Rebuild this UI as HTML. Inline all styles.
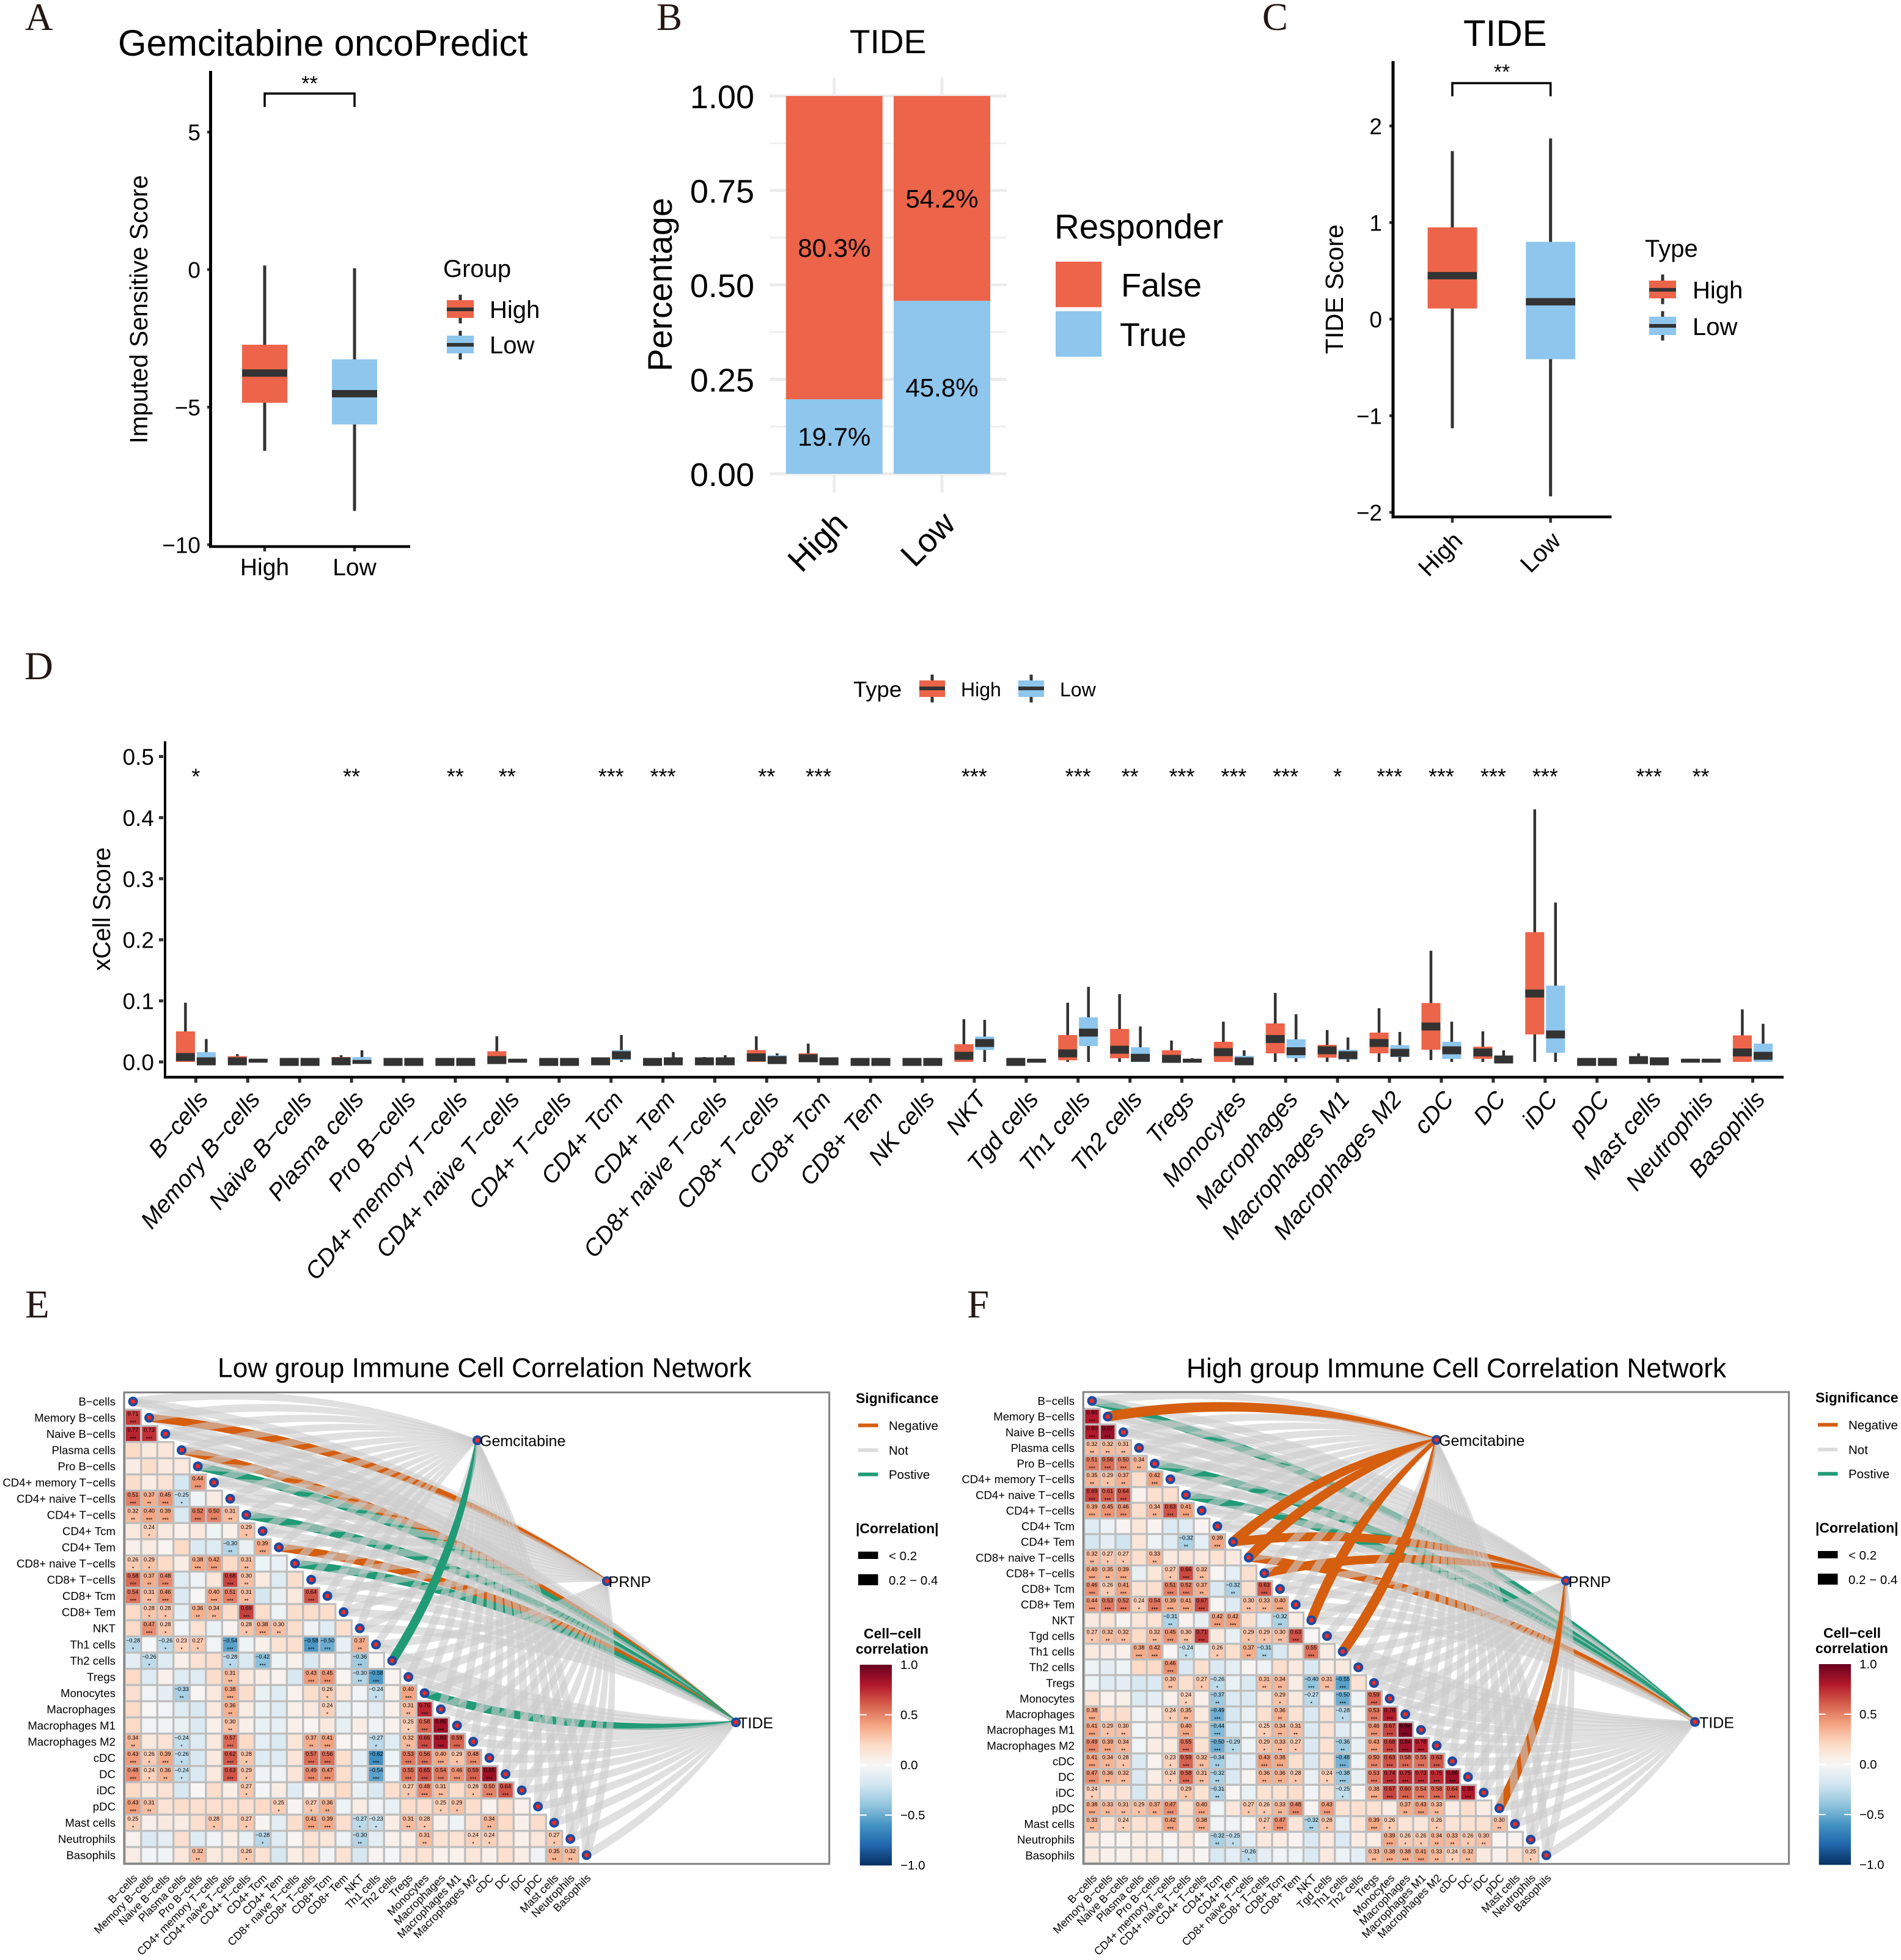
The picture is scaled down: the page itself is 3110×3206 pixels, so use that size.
<!DOCTYPE html>
<html lang="en">
<head>
<meta charset="utf-8">
<title>Immune, TIDE and Gemcitabine figure</title>
<style>
html,body{margin:0;padding:0;background:#fff}
svg{display:block;font-family:"Liberation Sans",sans-serif}
.letter{font-family:"Liberation Serif",serif;fill:#231815}
</style>
</head>
<body>
<svg id="figure" xmlns="http://www.w3.org/2000/svg" width="3110" height="3206" viewBox="0 0 3110 3206">
<defs>
<linearGradient id="corr-gradient" x1="0" y1="0" x2="0" y2="1">
<stop offset="0" stop-color="#67001f"/><stop offset=".1" stop-color="#b2182b"/><stop offset=".2" stop-color="#d6604d"/><stop offset=".3" stop-color="#f4a582"/><stop offset=".4" stop-color="#fddbc7"/><stop offset=".5" stop-color="#f7f7f7"/><stop offset=".6" stop-color="#d1e5f0"/><stop offset=".7" stop-color="#92c5de"/><stop offset=".8" stop-color="#4393c3"/><stop offset=".9" stop-color="#2166ac"/><stop offset="1" stop-color="#053061"/>
</linearGradient>
</defs>
<rect width="3110" height="3206" fill="#fff"/>

<text class="letter" x="41" y="49" font-size="63">A</text>
<text class="letter" x="1074" y="49" font-size="63">B</text>
<text class="letter" x="2065" y="49" font-size="63">C</text>
<text class="letter" x="40" y="1111" font-size="65">D</text>
<text class="letter" x="41" y="2155" font-size="65">E</text>
<text class="letter" x="1582" y="2155" font-size="65">F</text>

<!-- Panel A static text -->
<text x="193" y="91" font-size="60">Gemcitabine oncoPredict</text>
<text transform="rotate(-90 241 506)" x="241" y="506" font-size="40.5" text-anchor="middle">Imputed Sensitive Score</text>
<text x="725" y="453" font-size="40">Group</text>
<g>
<rect x="750.5" y="482" width="5" height="47" fill="#333"/><rect x="731" y="491" width="44" height="29" fill="#EC6449"/><rect x="731" y="503" width="44" height="6" fill="#333"/>
<text x="801" y="520" font-size="40">High</text></g>
<g>
<rect x="750.5" y="541" width="5" height="47" fill="#333"/><rect x="731" y="549" width="44" height="29" fill="#8EC6ED"/><rect x="731" y="561" width="44" height="6" fill="#333"/>
<text x="801" y="578" font-size="40">Low</text></g>

<!-- Panel B static text -->
<text x="1390" y="87" font-size="55">TIDE</text>
<text transform="rotate(-90 1099 465.5)" x="1099" y="465.5" font-size="55.5" text-anchor="middle">Percentage</text>
<text x="1725" y="390" font-size="56.5">Responder</text>
<g><rect x="1727" y="428" width="75" height="74.5" fill="#EC6449"/><text x="1834" y="485" font-size="54">False</text></g>
<g><rect x="1727" y="509" width="75" height="74.5" fill="#8EC6ED"/><text x="1832" y="566" font-size="54">True</text></g>

<!-- Panel C static text -->
<text x="2394" y="75" font-size="60">TIDE</text>
<text transform="rotate(-90 2197 473)" x="2197" y="473" font-size="41" text-anchor="middle">TIDE Score</text>
<text x="2691" y="420" font-size="40">Type</text>
<g>
<rect x="2717.5" y="449" width="5" height="48.5" fill="#333"/><rect x="2698" y="459" width="44" height="29" fill="#EC6449"/><rect x="2698" y="471" width="44" height="6" fill="#333"/>
<text x="2769" y="488" font-size="40">High</text></g>
<g>
<rect x="2717.5" y="509" width="5" height="48" fill="#333"/><rect x="2698" y="518" width="44" height="30" fill="#8EC6ED"/><rect x="2698" y="530" width="44" height="6" fill="#333"/>
<text x="2769" y="548" font-size="40">Low</text></g>

<!-- Panel D static text -->
<text transform="rotate(-90 180 1487)" x="180" y="1487" font-size="39.5" text-anchor="middle">xCell Score</text>
<text x="1396" y="1140" font-size="36.5">Type</text>
<g>
<rect x="1522.5" y="1103.5" width="5" height="45.5" fill="#333"/><rect x="1504" y="1113" width="42" height="27" fill="#EC6449"/><rect x="1504" y="1123" width="42" height="6" fill="#333"/>
<text x="1572" y="1139" font-size="32">High</text></g>
<g>
<rect x="1684.5" y="1103.5" width="5" height="45.5" fill="#333"/><rect x="1666" y="1113" width="42" height="27" fill="#8EC6ED"/><rect x="1666" y="1123" width="42" height="6" fill="#333"/>
<text x="1734" y="1139" font-size="32">Low</text></g>

<!-- Panels E / F static text -->
<text x="356" y="2252.5" font-size="44.4">Low group Immune Cell Correlation Network</text>
<text x="1941" y="2253" font-size="44.4">High group Immune Cell Correlation Network</text>

<g id="legend-e">
<text x="1400" y="2295" font-size="23" font-weight="700">Significance</text>
<rect x="1404" y="2328.5" width="32.5" height="6" fill="#d55e0f"/>
<text x="1454" y="2339" font-size="20.5">Negative</text>
<rect x="1404" y="2369" width="32.5" height="6" fill="#dcdcdc"/>
<text x="1454" y="2379.5" font-size="20.5">Not</text>
<rect x="1404" y="2408.7" width="32.5" height="6" fill="#219b76"/>
<text x="1454" y="2419" font-size="20.5">Postive</text>
<text x="1400" y="2508" font-size="23" font-weight="700">|Correlation|</text>
<rect x="1404" y="2538" width="32.5" height="12" fill="#000"/>
<text x="1454" y="2552" font-size="20.5">&lt; 0.2</text>
<rect x="1404" y="2575" width="32.5" height="18" fill="#000"/>
<text x="1454" y="2592" font-size="20.5">0.2 − 0.4</text>
<text x="1460" y="2680" font-size="23" font-weight="700" text-anchor="middle">Cell−cell</text>
<text x="1400" y="2705" font-size="23" font-weight="700">correlation</text>
<rect x="1406.7" y="2723" width="52.3" height="328.4" fill="url(#corr-gradient)"/>
<g stroke="#fff" stroke-width="2">
<path d="M1406.7 2804.9h11M1448 2804.9h11M1406.7 2887h11M1448 2887h11M1406.7 2969h11M1448 2969h11"/></g>
<g font-size="20.5">
<text x="1473" y="2730">1.0</text><text x="1473" y="2812">0.5</text><text x="1473" y="2894">0.0</text><text x="1473" y="2976">−0.5</text><text x="1473" y="3058">−1.0</text></g>
</g>
<g id="legend-f" transform="translate(1570 -1)">
<text x="1400" y="2295" font-size="23" font-weight="700">Significance</text>
<rect x="1404" y="2328.5" width="32.5" height="6" fill="#d55e0f"/>
<text x="1454" y="2339" font-size="20.5">Negative</text>
<rect x="1404" y="2369" width="32.5" height="6" fill="#dcdcdc"/>
<text x="1454" y="2379.5" font-size="20.5">Not</text>
<rect x="1404" y="2408.7" width="32.5" height="6" fill="#219b76"/>
<text x="1454" y="2419" font-size="20.5">Postive</text>
<text x="1400" y="2508" font-size="23" font-weight="700">|Correlation|</text>
<rect x="1404" y="2538" width="32.5" height="12" fill="#000"/>
<text x="1454" y="2552" font-size="20.5">&lt; 0.2</text>
<rect x="1404" y="2575" width="32.5" height="18" fill="#000"/>
<text x="1454" y="2592" font-size="20.5">0.2 − 0.4</text>
<text x="1460" y="2680" font-size="23" font-weight="700" text-anchor="middle">Cell−cell</text>
<text x="1400" y="2705" font-size="23" font-weight="700">correlation</text>
<rect x="1405.7" y="2723" width="52.3" height="328.4" fill="url(#corr-gradient)"/>
<g stroke="#fff" stroke-width="2">
<path d="M1405.7 2804.9h11M1447 2804.9h11M1405.7 2887h11M1447 2887h11M1405.7 2969h11M1447 2969h11"/></g>
<g font-size="20.5">
<text x="1472" y="2730">1.0</text><text x="1472" y="2812">0.5</text><text x="1472" y="2894">0.0</text><text x="1472" y="2976">−0.5</text><text x="1472" y="3058">−1.0</text></g>
</g>
</svg>

<script>
/* ---------- Panel A data: [whisker low, q1, median, q3, whisker high] ---------- */
const gemGroups = ['High', 'Low'];
const gemHighBox = [-6.59, -4.84, -3.76, -2.73, 0.15];
const gemLowBox = [-8.77, -5.63, -4.51, -3.26, 0.05];
const gemTicks = [5, 0, -5, -10];

/* ---------- Panel B data ---------- */
const respGroups = ['High', 'Low'];
const respFalse = [0.803, 0.542];
const respTrue = [0.197, 0.458];
const respTicks = [0, 0.25, 0.5, 0.75, 1];
const respMinorTicks = [0.125, 0.375, 0.625, 0.875];

/* ---------- Panel C data ---------- */
const tideGroups = ['High', 'Low'];
const tideHighBox = [-1.13, 0.11, 0.45, 0.95, 1.74];
const tideLowBox = [-1.835, -0.415, 0.18, 0.80, 1.87];
const tideTicks = [2, 1, 0, -1, -2];

/* ---------- Panel D data ---------- */
const xcellCats = ['B−cells','Memory B−cells','Naive B−cells','Plasma cells','Pro B−cells','CD4+ memory T−cells','CD4+ naive T−cells','CD4+ T−cells','CD4+ Tcm','CD4+ Tem','CD8+ naive T−cells','CD8+ T−cells','CD8+ Tcm','CD8+ Tem','NK cells','NKT','Tgd cells','Th1 cells','Th2 cells','Tregs','Monocytes','Macrophages','Macrophages M1','Macrophages M2','cDC','DC','iDC','pDC','Mast cells','Neutrophils','Basophils'];
const xcellTicks = [0, 0.1, 0.2, 0.3, 0.4, 0.5];
const xcellStars = ['*','','','**','','**','**','','***','***','','**','***','','','***','','***','**','***','***','***','*','***','***','***','***','','***','**',''];
const xcellHigh = [
[0,0,.008,.05,.097],[0,0,.001,.0094,.0127],[0,0,0,0,0],[0,0,.001,.008,.011],[0,0,0,0,0],[0,0,0,0,0],
[0,.001,.003,.0175,.042],[0,0,0,0,0],[0,0,.001,.003,.005],[0,0,0,0,0],[0,0,.001,.005,.008],[0,0,.0075,.0195,.042],
[0,0,.006,.014,.03],[0,0,0,0,0],[0,0,0,0,0],[0,0,.01,.029,.07],[0,0,0,0,0],[0,.0027,.014,.044,.097],
[0,.006,.02,.054,.111],[0,0,.005,.019,.035],[0,0,.016,.033,.066],[0,.014,.0375,.063,.113],[0,.007,.019,.028,.052],
[0,.014,.031,.048,.088],[.003,.02,.058,.0965,.182],[0,.005,.0155,.025,.05],[0,.045,.112,.2125,.4135],[0,0,0,0,0],
[0,0,.003,.008,.014],[0,0,.002,.002,.003],[0,0,.0155,.0435,.086]];
const xcellLow = [
[0,0,.001,.016,.0375],[0,0,.002,.003,.003],[0,0,0,0,0],[0,0,0,.008,.019],[0,0,0,0,0],[0,0,0,0,0],
[0,0,.002,.003,.003],[0,0,0,0,0],[0,.003,.011,.0195,.044],[0,0,.001,.004,.016],[0,0,.001,.005,.011],[0,0,.003,.0107,.014],
[0,0,.001,.003,.007],[0,0,0,0,0],[0,0,0,0,0],[0,.0195,.031,.0415,.069],[0,0,.002,.002,.003],[0,.026,.048,.073,.123],
[0,0,.0067,.024,.058],[0,0,.002,.004,.006],[0,0,.001,.01,.019],[0,.006,.0175,.037,.078],[0,.004,.011,.02,.04],
[0,.008,.015,.0275,.049],[0,.005,.019,.033,.066],[0,0,.004,.01,.019],[0,.015,.045,.125,.261],[0,0,0,0,0],
[0,0,.001,.004,.007],[0,0,.002,.002,.003],[0,0,.01,.03,.0625]];
const thinMedianLow = ['Memory B−cells','Plasma cells','CD4+ naive T−cells','Tgd cells','Tregs','Neutrophils'];
const thinMedianHigh = ['Neutrophils'];

/* ---------- Panels E / F data ---------- */
const lowCells = ['B−cells','Memory B−cells','Naive B−cells','Plasma cells','Pro B−cells','CD4+ memory T−cells','CD4+ naive T−cells','CD4+ T−cells','CD4+ Tcm','CD4+ Tem','CD8+ naive T−cells','CD8+ T−cells','CD8+ Tcm','CD8+ Tem','NKT','Th1 cells','Th2 cells','Tregs','Monocytes','Macrophages','Macrophages M1','Macrophages M2','cDC','DC','iDC','pDC','Mast cells','Neutrophils','Basophils'];
const highCells = ['B−cells','Memory B−cells','Naive B−cells','Plasma cells','Pro B−cells','CD4+ memory T−cells','CD4+ naive T−cells','CD4+ T−cells','CD4+ Tcm','CD4+ Tem','CD8+ naive T−cells','CD8+ T−cells','CD8+ Tcm','CD8+ Tem','NKT','Tgd cells','Th1 cells','Th2 cells','Tregs','Monocytes','Macrophages','Macrophages M1','Macrophages M2','cDC','DC','iDC','pDC','Mast cells','Neutrophils','Basophils'];
const lowCorr = [
[],
[.71],
[.77,.73],
[.2,.1,.12],
[.07,.18,.1,.1],
[.18,.07,.15,-.18,.44],
[.51,.37,.45,-.25,-.05,.08],
[.32,.40,.39,-.15,.52,.50,.31],
[.1,.24,.1,.05,.1,-.05,.05,.29],
[.05,.08,.02,.2,-.15,-.13,-.30,-.07,.39],
[.26,.29,.2,.07,.38,.42,.2,.31,-.05,-.07],
[.58,.37,.48,-.12,-.04,.12,.68,.30,.1,-.13,.18],
[.54,.31,.46,-.15,.01,.40,.51,.31,-.17,-.08,.1,.64],
[.2,.28,.28,-.1,.36,.34,.18,.69,.18,-.05,.18,.18,.18],
[.2,.47,.28,-.03,.15,-.07,.03,.28,.38,.30,.18,-.04,-.12,.17],
[-.28,0,-.26,.23,.27,-.03,-.54,-.05,.05,.15,.17,-.58,-.50,-.08,.37],
[-.1,-.26,-.13,.05,.15,.17,-.28,-.15,-.42,-.05,.05,-.15,.05,-.08,-.36,.01],
[.2,-.13,.05,-.12,-.13,.18,.31,.1,.07,.04,-.16,.43,.45,.02,-.30,-.58,.03],
[.17,-.03,-.1,-.33,.01,.1,.38,.18,-.07,-.12,.04,.18,.26,.1,-.03,-.24,.05,.40],
[.2,.01,-.03,-.13,-.16,.1,.36,.08,-.07,-.13,.06,.1,.24,-.08,-.03,-.1,.05,.31,.76],
[.2,-.03,-.04,-.07,-.15,.05,.30,.06,-.07,-.09,.05,.02,.1,-.09,.08,-.04,.04,.25,.58,.85],
[.34,.1,.15,-.24,-.13,.1,.57,.2,-.1,-.14,.12,.37,.41,.02,.01,-.27,-.12,.32,.66,.83,.59],
[.43,.26,.39,-.26,-.16,.1,.62,.28,-.12,-.13,.13,.57,.56,.18,-.1,-.62,-.05,.53,.56,.40,.29,.48],
[.48,.24,.36,-.24,-.15,.1,.63,.29,-.04,-.04,.13,.49,.47,.18,-.1,-.54,-.05,.55,.65,.54,.46,.59,.85],
[.2,.1,.15,-.16,.01,.18,.07,.27,-.02,.08,-.12,.02,.12,.2,-.07,-.15,.17,.27,.48,.31,.18,.28,.50,.64],
[.43,.31,.15,.18,.17,.17,.17,.17,.2,.25,.03,.27,.36,-.06,.08,-.04,-.08,.18,.17,.25,.29,.18,.04,.18,.05],
[.25,.05,.1,.08,.17,.28,.17,.27,.02,-.1,.18,.41,.39,.17,-.27,-.23,.07,.31,.28,.05,-.05,.15,.34,.2,.05,.18],
[.04,-.15,-.1,.17,-.12,-.04,.07,-.08,-.28,-.12,.02,.15,.12,-.06,-.30,-.1,.05,.07,.31,.15,.15,.24,.24,.15,.05,.12,.27],
[.08,-.03,-.03,.12,.32,.1,.12,.26,.15,-.17,.07,.15,-.03,.15,-.17,.03,-.02,.12,.15,.04,.04,.12,.05,.17,.07,-.04,.35,.32]];
const highCorr = [
[],
[.80],
[.80,.87],
[.32,.32,.31],
[.51,.56,.50,.34],
[.35,.29,.37,.18,.42],
[.69,.61,.64,.04,.17,.17],
[.39,.45,.46,.17,.34,.63,.41],
[-.12,-.06,.03,.12,.03,-.15,-.13,.03],
[-.18,-.1,-.2,.12,-.05,-.12,-.32,-.1,.39],
[.32,.27,.27,.17,.33,.1,.12,.1,.15,.1],
[.40,.35,.39,-.08,.12,.27,.66,.32,.02,-.1,.17],
[.46,.26,.41,.15,.17,.51,.52,.37,-.15,-.32,.17,.63],
[.44,.53,.52,.24,.54,.39,.41,.67,.02,-.13,.30,.33,.40],
[.1,.12,.03,.12,.15,-.31,.03,-.08,.42,.42,.17,-.1,-.32,.08],
[.27,.32,.32,.2,.32,.45,.30,.71,.1,-.08,.29,.29,.30,.63,.01],
[.1,.07,.05,.38,.42,.01,-.24,-.07,.26,.17,.37,-.31,-.15,.1,.55,.08],
[-.05,-.1,-.05,.2,.2,.46,-.15,.17,-.15,-.1,.02,-.04,.18,.1,-.15,.07,.1],
[-.05,-.12,-.1,-.17,-.15,.30,.17,.27,-.26,-.07,-.15,.31,.34,.08,-.40,.31,-.55,.15],
[.15,.04,.06,-.14,-.1,.05,.24,.05,-.37,-.15,-.15,.1,.29,.1,-.27,.04,-.50,-.05,.59],
[.38,.17,.18,-.04,.06,.24,.35,.1,-.49,-.17,-.08,.17,.36,.15,-.15,.15,-.28,.03,.53,.78],
[.41,.29,.30,-.03,.07,.17,.40,.15,-.44,-.17,-.03,.25,.34,.31,-.15,.15,-.12,-.03,.46,.67,.94],
[.49,.39,.34,-.03,.07,.1,.55,.15,-.50,-.29,-.05,.29,.33,.27,-.15,.15,-.36,-.08,.43,.68,.84,.78],
[.41,.34,.28,-.15,.03,.23,.59,.32,-.34,-.15,-.1,.43,.38,.17,-.15,.15,-.48,-.05,.50,.63,.58,.55,.63],
[.47,.36,.32,-.15,.07,.24,.58,.31,-.32,-.15,.03,.36,.36,.28,-.08,.24,-.38,-.08,.53,.74,.75,.73,.75,.86],
[.24,.14,.14,-.17,.12,.14,.29,.15,-.31,.02,-.07,.15,.15,.18,-.03,.14,-.25,.03,.38,.67,.60,.54,.58,.64,.80],
[.38,.33,.31,.29,.37,.47,.15,.40,-.05,.12,.27,.26,.33,.48,.03,.43,.15,.17,.15,.08,.37,.43,.33,.08,.17,.08],
[.33,.15,.24,.15,.17,.42,.15,.38,-.03,-.05,.02,.27,.47,.13,-.32,.28,-.1,.13,.39,.26,.14,.12,.26,.14,.15,.15,.30],
[.1,.03,.03,.08,.05,.02,.12,.02,-.32,-.25,-.1,.1,.07,.03,-.15,.1,-.15,.08,.07,.39,.26,.26,.34,.33,.26,.30,.02,.04],
[.1,.05,.05,.07,.1,-.03,.05,.02,-.16,-.1,-.26,-.1,-.04,-.05,-.15,.1,-.06,-.1,.33,.38,.38,.41,.33,.24,.32,.1,.05,.15,.25]];
/* link correlation per immune cell; 0 = not significant */
const lowGemLinks  = [0,0,0,0,0,0,0,0,0,0,0,0,0,0,0,0,.33,0,0,0,0,0,0,0,0,0,0,0,0];
const lowPrnpLinks = [0,-.25,0,0,0,0,0,0,0,0,0,0,0,0,0,0,0,0,0,0,0,0,0,0,0,0,0,0,0];
const lowTideLinks = [0,0,0,-.28,.27,0,0,.28,0,-.27,.26,0,0,0,0,0,0,0,.3,0,0,0,0,0,0,0,0,0,0];
const highGemLinks  = [0,-.45,0,0,0,0,0,0,0,-.45,-.45,0,0,0,-.45,0,-.45,0,0,0,0,0,0,0,0,0,0,0,0,0];
const highPrnpLinks = [0,0,0,0,0,0,0,0,0,-.33,0,-.33,0,0,0,0,0,0,0,0,0,0,0,0,0,0,-.38,0,0,0];
const highTideLinks = [.27,0,0,0,.27,0,.27,0,0,0,-.26,0,0,0,0,0,0,0,0,0,0,0,0,0,0,0,0,0,0,0];
const targetNames = ['TIDE', 'PRNP', 'Gemcitabine'];

/* ---------- Helpers ---------- */
const NS = 'http://www.w3.org/2000/svg';
const svg = document.getElementById('figure');
const RED = '#EC6449', BLUE = '#8EC6ED', DARK = '#333333';

function add(parent, tag, attrs, name) {
  const el = document.createElementNS(NS, tag);
  for (const k in attrs) el.setAttribute(k, attrs[k]);
  
  
  parent.appendChild(el);
  return el;
}
function group(name) { return add(svg, 'g', {}, name); }
function rectEdges(p, x0, y0, x1, y1, fill, name) {
  return add(p, 'rect', {x: Math.min(x0, x1), y: Math.min(y0, y1), width: Math.abs(x1 - x0), height: Math.abs(y1 - y0), fill: fill}, name);
}
function seg(p, x1, y1, x2, y2, stroke, w, name) {
  return add(p, 'line', {x1, y1, x2, y2, stroke, 'stroke-width': w}, name);
}
function label(p, str, x, y, size, opts, name) {
  const o = opts || {};
  const a = {x, y, 'font-size': size};
  if (o.anchor) a['text-anchor'] = o.anchor;
  if (o.rot) a.transform = 'rotate(' + o.rot + ' ' + x + ' ' + y + ')';
  if (o.italic) a['font-style'] = 'italic';
  if (o.fill) a.fill = o.fill;
  const t = add(p, 'text', a, name);
  t.textContent = str;
  return t;
}
const fmt = v => String(v).replace('-', '−');

function drawBox(p, cx, halfW, stats, yFn, fill, medH, whiskW, prefix) {
  seg(p, cx, yFn(stats[0]), cx, yFn(stats[4]), DARK, whiskW, prefix + '-whisker');
  const h = Math.abs(yFn(stats[1]) - yFn(stats[3]));
  if (h > 0) rectEdges(p, cx - halfW, yFn(stats[1]), cx + halfW, yFn(stats[3]), fill, prefix + '-box');
  const m = yFn(stats[2]);
  rectEdges(p, cx - halfW, m - medH / 2, cx + halfW, m + medH / 2, DARK, prefix + '-median');
}
function bracket(p, x1, x2, top, bottom, starX, starY, size) {
  add(p, 'path', {d: 'M' + x1 + ' ' + bottom + 'V' + top + 'H' + x2 + 'V' + bottom, fill: 'none', stroke: '#000', 'stroke-width': 3.5}, 'significance-bracket');
  label(p, '**', starX, starY, size, {anchor: 'middle'}, 'significance-stars');
}

/* ---------- Panel A ---------- */
(function () {
  const g = group('panel-a-boxplot');
  const y = v => 441 - 45 * v;
  const x = i => 433 + 147 * i;
  gemTicks.forEach(t => {
    seg(g, 339, y(t), 345, y(t), DARK, 4.5, 'y-tick');
    label(g, fmt(t), 328, y(t) + 13.5, 37, {anchor: 'end'}, 'y-tick-label');
  });
  [gemHighBox, gemLowBox].forEach((b, i) => {
    drawBox(g, x(i), 37, b, y, i ? BLUE : RED, 12, 5, 'gem-' + gemGroups[i].toLowerCase());
    seg(g, x(i), 894, x(i), 902, DARK, 4.5, 'x-tick');
    label(g, gemGroups[i], x(i), 941, 39, {anchor: 'middle'}, 'x-tick-label');
  });
  seg(g, 344.5, 116, 344.5, 896, '#000', 5, 'y-axis-line');
  seg(g, 342, 894, 671, 894, '#000', 4.5, 'x-axis-line');
  bracket(g, x(0), x(1), 153, 175, (x(0) + x(1)) / 2, 148, 34);
})();

/* ---------- Panel B ---------- */
(function () {
  const g = group('panel-b-stacked-bars');
  const y = v => 775 - 618 * v;
  const x = i => 1364.8 + 176.2 * i;
  respMinorTicks.forEach(t => seg(g, 1259, y(t), 1646.7, y(t), '#efefef', 3, 'minor-gridline'));
  respTicks.forEach(t => seg(g, 1259, y(t), 1646.7, y(t), '#ececec', 5, 'major-gridline'));
  respGroups.forEach((n, i) => seg(g, x(i), 127, x(i), 805.5, '#ececec', 5, 'vertical-gridline'));
  respGroups.forEach((n, i) => {
    rectEdges(g, x(i) - 79, y(1), x(i) + 79, y(respTrue[i]), RED, 'bar-false-' + n.toLowerCase());
    rectEdges(g, x(i) - 79, y(respTrue[i]), x(i) + 79, y(0), BLUE, 'bar-true-' + n.toLowerCase());
    label(g, (respFalse[i] * 100).toFixed(1) + '%', x(i), y(respTrue[i] + respFalse[i] / 2) + 15, 42, {anchor: 'middle'}, 'bar-false-value');
    label(g, (respTrue[i] * 100).toFixed(1) + '%', x(i), y(respTrue[i] / 2) + 15, 42, {anchor: 'middle'}, 'bar-true-value');
    label(g, n, x(i) + 25, 860, 54, {anchor: 'end', rot: -45}, 'x-tick-label');
  });
  respTicks.forEach(t => label(g, t.toFixed(2), 1234, y(t) + 20, 54, {anchor: 'end'}, 'y-tick-label'));
})();

/* ---------- Panel C ---------- */
(function () {
  const g = group('panel-c-boxplot');
  const y = v => 522 - 158 * v;
  const x = i => 2376 + 160.7 * i;
  tideTicks.forEach(t => {
    seg(g, 2273, y(t), 2279, y(t), DARK, 4.5, 'y-tick');
    label(g, fmt(t), 2261, y(t) + 13.5, 37, {anchor: 'end'}, 'y-tick-label');
  });
  [tideHighBox, tideLowBox].forEach((b, i) => {
    drawBox(g, x(i), 40.4, b, y, i ? BLUE : RED, 12, 5, 'tide-' + tideGroups[i].toLowerCase());
    seg(g, x(i), 845, x(i), 855, DARK, 4.5, 'x-tick');
    label(g, tideGroups[i], x(i) + 19, 887, 40, {anchor: 'end', rot: -45}, 'x-tick-label');
  });
  seg(g, 2279, 100, 2279, 848, '#000', 5, 'y-axis-line');
  seg(g, 2277, 845.5, 2636.5, 845.5, '#000', 4.5, 'x-axis-line');
  bracket(g, x(0), x(1), 136, 157.5, 2457, 129, 34);
})();

/* ---------- Panel D ---------- */
(function () {
  const g = group('panel-d-xcell-boxplots');
  const y = v => 1737 - 999 * v;
  const x = i => 320.4 + 84.9 * i;
  xcellTicks.forEach(t => {
    seg(g, 260, y(t), 267, y(t), DARK, 5, 'y-tick');
    label(g, t.toFixed(1), 252, y(t) + 13.5, 37, {anchor: 'end'}, 'y-tick-label');
  });
  xcellCats.forEach((c, i) => {
    const thinH = thinMedianHigh.includes(c), thinL = thinMedianLow.includes(c);
    drawBox(g, x(i) - 17, 15.5, xcellHigh[i], y, RED, thinH ? 6.5 : 13, 4.5, 'xcell-high');
    drawBox(g, x(i) + 17, 15.5, xcellLow[i], y, BLUE, thinL ? 6.5 : 13, 4.5, 'xcell-low');
    seg(g, x(i), 1763, x(i), 1771, DARK, 5, 'x-tick');
    label(g, c, x(i) + 22, 1799, 39, {anchor: 'end', rot: -50, italic: true}, 'x-tick-label');
    if (xcellStars[i]) label(g, xcellStars[i], x(i), 1282.5, 36, {anchor: 'middle'}, 'significance-stars');
  });
  seg(g, 270, 1212.5, 270, 1764, '#000', 4, 'y-axis-line');
  seg(g, 268, 1762, 2918, 1762, '#000', 4.5, 'x-axis-line');
})();

/* ---------- Panels E / F ---------- */
const rampStops = [[-1,[5,48,97]],[-.8,[33,102,172]],[-.6,[67,147,195]],[-.4,[146,197,222]],[-.2,[209,229,240]],[0,[247,247,247]],[.2,[253,219,199]],[.4,[244,165,130]],[.6,[214,96,77]],[.8,[178,24,43]],[1,[103,0,31]]];
function ramp(v) {
  for (let k = 0; k < rampStops.length - 1; k++) {
    const a = rampStops[k], b = rampStops[k + 1];
    if (v <= b[0]) {
      const t = (v - a[0]) / (b[0] - a[0]);
      return 'rgb(' + a[1].map((c, n) => Math.round(c + (b[1][n] - c) * t)).join(',') + ')';
    }
  }
  return 'rgb(103,0,31)';
}
const sigStars = v => { const a = Math.abs(v); return a >= .38 ? '***' : a >= .30 ? '**' : '*'; };
function linkColor(r) { return r < 0 ? '#d55e0f' : '#219b76'; }
function linkStartWidth(r) { return r === 0 ? 13 : 9 + 16 * Math.abs(r); }
function linkEndWidth(r) { return r === 0 ? 3 : 6; }
function normal(ax, ay, bx, by) {
  const dx = bx - ax, dy = by - ay, l = Math.hypot(dx, dy) || 1;
  return [-dy / l, dx / l];
}
/* tapered ribbon between a cell node and a target, bowed by ctrl point */
function ribbon(px, py, qx, qy, tx, ty, w0, w1) {
  const n0 = normal(px, py, qx, qy), n1 = normal(qx, qy, tx, ty), nm = normal(px, py, tx, ty);
  const wm = w0 * 1.1;
  const f = v => v.toFixed(1);
  return 'M' + f(px + n0[0] * w0 / 2) + ' ' + f(py + n0[1] * w0 / 2) +
    'Q' + f(qx + nm[0] * wm / 2) + ' ' + f(qy + nm[1] * wm / 2) + ' ' + f(tx + n1[0] * w1 / 2) + ' ' + f(ty + n1[1] * w1 / 2) +
    'L' + f(tx - n1[0] * w1 / 2) + ' ' + f(ty - n1[1] * w1 / 2) +
    'Q' + f(qx - nm[0] * wm / 2) + ' ' + f(qy - nm[1] * wm / 2) + ' ' + f(px - n0[0] * w0 / 2) + ' ' + f(py - n0[1] * w0 / 2) + 'Z';
}

function network(cfg) {
  const g = group(cfg.prefix + '-correlation-network');
  const n = cfg.cells.length, s = cfg.step;
  const cx = j => cfg.x0 + j * s;
  const cy = i => cfg.y0 + i * s;
  cfg.corr.forEach((row, i) => row.forEach((v, j) => {
    add(g, 'rect', {x: cx(j) - s / 2, y: cy(i) - s / 2, width: s, height: s, fill: ramp(v), stroke: '#bebebe', 'stroke-width': 3.2}, 'corr-cell');
  }));
  cfg.corr.forEach((row, i) => row.forEach((v, j) => {
    if (Math.abs(v) < 0.23) return;
    label(g, v.toFixed(2).replace('-', '−'), cx(j), cy(i) - 3.5, 9.2, {anchor: 'middle'}, 'corr-value');
    label(g, sigStars(v), cx(j), cy(i) + 11, 9, {anchor: 'middle'}, 'corr-stars');
  }));
  cfg.cells.forEach((c, i) => {
    label(g, c, cfg.labelRight, cy(i) + 6.5, 18.6, {anchor: 'end'}, 'row-label');
    label(g, c, cx(i) + cfg.colOffset, 3073, 18, {anchor: 'end', rot: -45}, 'column-label');
  });
  cfg.links.forEach((arr, tIdx) => {
    const T = cfg.targets[tIdx];
    arr.forEach((r, i) => {
      const px = cx(i), py = cy(i);
      const dx = T[0] - px, dy = T[1] - py;
      const bend = i < n / 2 ? 0.12 : -0.1;
      const qx = (px + T[0]) / 2 + bend * dy;
      const qy = (py + T[1]) / 2 - bend * dx;
      const el = add(g, 'path', {
        d: ribbon(px, py, qx, qy, T[0], T[1], linkStartWidth(r), linkEndWidth(r)),
        fill: r === 0 ? '#cccccc' : linkColor(r),
        'fill-opacity': r === 0 ? 0.6 : 1
      }, 'link-to-' + targetNames[tIdx].toLowerCase());
      el.setAttribute('data-correlation', r);
    });
  });
  cfg.cells.forEach((c, i) => {
    add(g, 'circle', {cx: cx(i), cy: cy(i), r: 8, fill: '#1b4ba0'}, 'cell-node-outer');
    add(g, 'circle', {cx: cx(i), cy: cy(i), r: 3.8, fill: '#ee2a24'}, 'cell-node-inner');
  });
  cfg.targets.forEach((T, t) => {
    add(g, 'circle', {cx: T[0], cy: T[1], r: 8, fill: '#1b4ba0'}, 'target-node-outer');
    add(g, 'circle', {cx: T[0], cy: T[1], r: 3.8, fill: '#ee2a24'}, 'target-node-inner');
    label(g, targetNames[t], T[2], T[3], 25, {}, 'target-label');
  });
  add(g, 'rect', {x: cfg.frame[0], y: cfg.frame[1], width: cfg.frame[2] - cfg.frame[0], height: cfg.frame[3] - cfg.frame[1], fill: 'none', stroke: '#808080', 'stroke-width': 3}, 'plot-frame');
}

network({
  prefix: 'low-group', cells: lowCells, corr: lowCorr, x0: 217.6, y0: 2292.5, step: 26.5,
  labelRight: 189, colOffset: 8, frame: [203, 2277.6, 1356.7, 3048.8],
  targets: [[1204, 2817.2, 1208, 2827], [992.8, 2586.2, 995.6, 2596], [781, 2355.9, 785, 2365.5]],
  links: [lowTideLinks, lowPrnpLinks, lowGemLinks]
});
network({
  prefix: 'high-group', cells: highCells, corr: highCorr, x0: 1786.5, y0: 2291.5, step: 25.63,
  labelRight: 1758, colOffset: 9, frame: [1772.2, 2277, 2926.6, 3048.8],
  targets: [[2773, 2816.6, 2780, 2826.5], [2562, 2585.6, 2566, 2596], [2350, 2355.3, 2354, 2365]],
  links: [highTideLinks, highPrnpLinks, highGemLinks]
});
</script>
</body>
</html>
